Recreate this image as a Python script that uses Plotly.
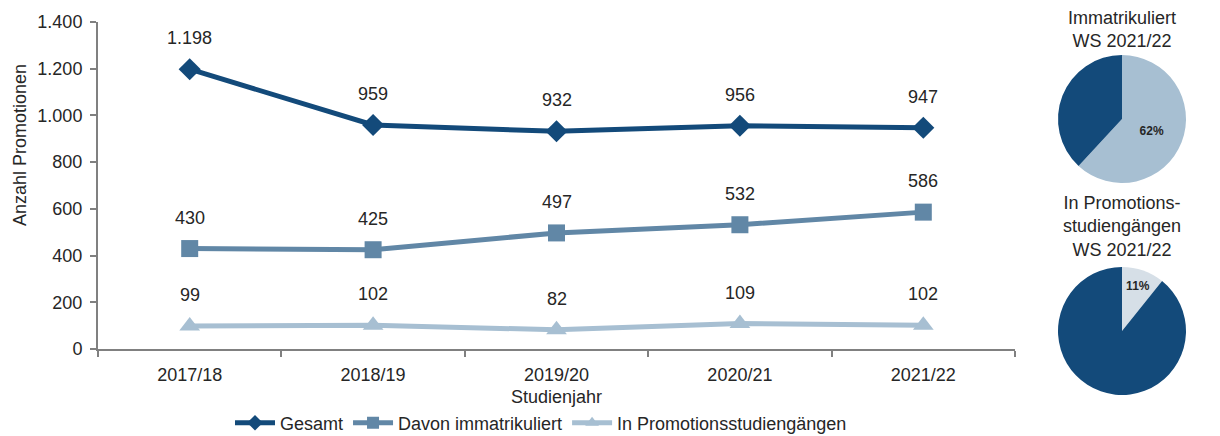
import plotly.graph_objects as go

years = ["2017/18", "2018/19", "2019/20", "2020/21", "2021/22"]
gesamt = [1198, 959, 932, 956, 947]
immatrikuliert = [430, 425, 497, 532, 586]
promotionsstudiengaenge = [99, 102, 82, 109, 102]

pie1_labels = ["Davon immatrikuliert", "Nicht immatrikuliert"]
pie1_values = [586, 361]
pie2_labels = ["In Promotionsstudiengängen", "Nicht in Promotionsstudiengängen"]
pie2_values = [102, 845]

yticks = [0, 200, 400, 600, 800, 1000, 1200, 1400]

C_DARK = "#134a7a"
C_MID = "#6187a6"
C_LIGHT = "#a7bfd2"
C_PALE = "#d6dfe7"
TXT = "#262626"
FONT = "Liberation Sans, Arial, sans-serif"

W, H = 1220, 436
x0, x1 = 98, 1015
ytop, ybot = 22, 349


def fmt(v):
    return f"{v:,}".replace(",", ".")


fig = go.Figure()

series = [
    ("Gesamt", gesamt, C_DARK, "diamond", 17),
    ("Davon immatrikuliert", immatrikuliert, C_MID, "square", 17),
    ("In Promotionsstudiengängen", promotionsstudiengaenge, C_LIGHT, "triangle-up", 18),
]
for name, vals, col, sym, sz in series:
    fig.add_trace(go.Scatter(
        x=years, y=vals, name=name, mode="lines+markers",
        line=dict(color=col, width=5),
        marker=dict(symbol=sym, size=sz, color=col),
        xaxis="x", yaxis="y",
    ))
    for xv, yv in zip(years, vals):
        fig.add_annotation(
            x=xv, y=yv, xref="x", yref="y", text=fmt(yv), showarrow=False,
            yshift=31, font=dict(size=18, color=TXT, family=FONT),
        )

PD = 128
pcx = 1122
for labels, values, light, cy in [
    (pie1_labels, pie1_values, C_LIGHT, 119),
    (pie2_labels, pie2_values, C_PALE, 331),
]:
    fig.add_trace(go.Pie(
        labels=labels, values=values, sort=False, direction="clockwise",
        rotation=0, marker=dict(colors=[light, C_DARK], line=dict(width=0)),
        texttemplate=["%{percent:.0%}", ""], textposition="inside",
        insidetextfont=dict(size=12, color=TXT, family=FONT, weight="bold"),
        hoverinfo="label+value+percent", showlegend=False,
        domain=dict(x=[(pcx - PD / 2) / W, (pcx + PD / 2) / W],
                    y=[1 - (cy + PD / 2) / H, 1 - (cy - PD / 2) / H]),
    ))

fig.add_annotation(
    x=1122 / W, y=1 - 29.5 / H, xref="paper", yref="paper", showarrow=False,
    xanchor="center", yanchor="middle",
    text="Immatrikuliert<br>WS 2021/22", align="center",
    font=dict(size=18, color=TXT, family=FONT),
)
fig.add_annotation(
    x=1122 / W, y=1 - 226 / H, xref="paper", yref="paper", showarrow=False,
    xanchor="center", yanchor="middle",
    text="In Promotions-<br>studiengängen<br>WS 2021/22", align="center",
    font=dict(size=18, color=TXT, family=FONT),
)
# y-axis title (placed like the reference, slightly above the axis centre)
fig.add_annotation(
    x=20 / W, y=1 - 145 / H, xref="paper", yref="paper", showarrow=False,
    xanchor="center", yanchor="middle", textangle=-90,
    text="Anzahl Promotionen", font=dict(size=18, color=TXT, family=FONT),
)

fig.update_layout(
    width=W, height=H,
    margin=dict(l=0, r=0, t=0, b=0, autoexpand=False),
    paper_bgcolor="white", plot_bgcolor="white",
    separators=",.",
    font=dict(family=FONT, size=18, color=TXT),
    xaxis=dict(
        domain=[x0 / W, x1 / W], range=[-0.5, 4.5], type="category",
        showline=True, linecolor="#808080", linewidth=2,
        ticks="outside", tickson="boundaries", ticklen=6, tickcolor="#808080",
        tickwidth=2, showgrid=False, zeroline=False, automargin=False,
        tickfont=dict(size=18, color=TXT), ticklabelstandoff=8,
        title=dict(text="Studienjahr", standoff=7, font=dict(size=18, color=TXT)),
    ),
    yaxis=dict(
        domain=[1 - ybot / H, 1 - ytop / H], range=[0, 1400],
        tickvals=yticks, tickformat=",d",
        showline=True, linecolor="#808080", linewidth=2,
        ticks="outside", ticklen=6, tickcolor="#808080", tickwidth=2,
        showgrid=False, zeroline=False, automargin=False,
        tickfont=dict(size=18, color=TXT), ticklabelstandoff=4,
    ),
    legend=dict(
        orientation="h", x=541 / W, xanchor="center", y=1 - 423 / H, yanchor="middle",
        font=dict(size=18, color=TXT), itemsizing="constant", itemwidth=40,
        tracegroupgap=0, bgcolor="rgba(0,0,0,0)",
    ),
)

fig.write_html(
    "out.html",
    config={"displayModeBar": False},
    post_script="document.body.style.margin='0';document.body.style.overflow='hidden';",
)
